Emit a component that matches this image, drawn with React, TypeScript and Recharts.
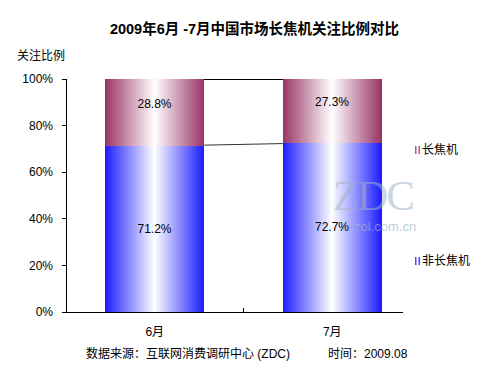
import React from 'react';
import { BarChart, Bar, XAxis, YAxis, ReferenceLine, LabelList } from 'recharts';

const categories = ['6月', '7月'];
const nonTeleValues = [71.2, 72.7];
const teleValues = [28.8, 27.3];
const yTicks = [0, 20, 40, 60, 80, 100];
const seriesNames = { nonTele: '非长焦机', tele: '长焦机' };
const title = '2009年6月 -7月中国市场长焦机关注比例对比';
const yAxisTitle = '关注比例';
const sourceText = '数据来源：互联网消费调研中心 (ZDC)';
const timeText = '时间：2009.08';

const data = categories.map((c, i) => ({ name: c, nonTele: nonTeleValues[i], tele: teleValues[i] }));

const FONT = '"Liberation Sans", Arial, "Noto Sans CJK SC", sans-serif';
const BLUE = '#1c1cff';
const MAROON = '#993366';
const BAR_SIZE = 99;

const XTick = (props: any) => {
  const { x, y, payload, index } = props;
  const off = payload && payload.offset ? payload.offset : 0;
  return (
    <g>
      <text x={x} y={y + 20} textAnchor="middle" dominantBaseline="central" fontSize={12} fontFamily={FONT} fill="#000">
        {payload.value}
      </text>
      {index === 0 && off ? (
        <line x1={x + off} x2={x + off} y1={y - 4} y2={y} stroke="#000" strokeWidth={1} />
      ) : null}
    </g>
  );
};

// Series line drawn only in the gap between the two bars
const SeriesLine = (color: string, crisp: boolean) => (p: any) => {
  const { x1, y1, x2, y2 } = p;
  const dx = x2 - x1;
  if (!dx) return <g />;
  const half = BAR_SIZE / 2;
  const t1 = half / dx;
  const t2 = (dx - half) / dx;
  const ax = x1 + dx * t1;
  const bx = x1 + dx * t2;
  const ay = y1 + (y2 - y1) * t1;
  const by = y1 + (y2 - y1) * t2;
  return (
    <line
      x1={ax}
      y1={ay}
      x2={bx}
      y2={by}
      stroke={color}
      strokeWidth={1}
      style={{ shapeRendering: crisp ? 'crispEdges' : 'auto' }}
    />
  );
};

const labelContent = (dy: number) => (props: any) => {
  const { x, y, width, height, value } = props;
  return (
    <text
      x={x + width / 2}
      y={y + height / 2 + dy}
      textAnchor="middle"
      dominantBaseline="central"
      fontSize={12}
      fontFamily={FONT}
      fill="#000"
    >
      {Number(value).toFixed(1) + '%'}
    </text>
  );
};

const LegendMark = ({ grad }: { grad: string }) => (
  <svg width={6} height={9} style={{ display: 'inline-block', verticalAlign: 'middle', marginRight: 1 }}>
    <rect x={0} y={0} width={5} height={8} fill={`url(#${grad})`} />
  </svg>
);

export default function App() {
  return (
    <div style={{ position: 'absolute', left: 0, top: 0, width: 500, height: 375, background: '#fff', fontFamily: FONT }}>
      <svg width={0} height={0} style={{ position: 'absolute' }}>
        <defs>
          <linearGradient id="gBlue" x1="0" y1="0" x2="1" y2="0">
            <stop offset="0" stopColor={BLUE} />
            <stop offset="0.5" stopColor="#ffffff" />
            <stop offset="1" stopColor={BLUE} />
          </linearGradient>
          <linearGradient id="gMaroon" x1="0" y1="0" x2="1" y2="0">
            <stop offset="0" stopColor={MAROON} />
            <stop offset="0.5" stopColor="#ffffff" />
            <stop offset="1" stopColor={MAROON} />
          </linearGradient>
        </defs>
      </svg>
      <div style={{ position: 'absolute', left: 0, top: 0, width: 500, height: 375, shapeRendering: 'crispEdges' } as any}>
        <BarChart
          width={500}
          height={375}
          data={data}
          margin={{ top: 79, right: 97, bottom: 33, left: 0 }}
          barSize={BAR_SIZE}
        >
          <XAxis
            dataKey="name"
            height={30}
            padding={{ left: 0, right: -18 }}
            axisLine={{ stroke: '#000', strokeWidth: 1 }}
            tickLine={false}
            tickSize={0}
            tickMargin={0}
            tick={<XTick />}
            interval={0}
          />
          <YAxis
            width={66}
            domain={[0, 100]}
            ticks={yTicks}
            tickFormatter={(v: number) => v + '%'}
            axisLine={{ stroke: '#000', strokeWidth: 1 }}
            tickLine={{ stroke: '#000', strokeWidth: 1 }}
            tickSize={4}
            tickMargin={9}
            tick={{ fontSize: 12, fill: '#000', fontFamily: FONT }}
          />
          <Bar dataKey="nonTele" name={seriesNames.nonTele} stackId="a" fill="url(#gBlue)" isAnimationActive={false}>
            <LabelList dataKey="nonTele" content={labelContent(0)} />
          </Bar>
          <Bar dataKey="tele" name={seriesNames.tele} stackId="a" fill="url(#gMaroon)" isAnimationActive={false}>
            <LabelList dataKey="tele" content={labelContent(-9)} />
          </Bar>
          <ReferenceLine
            segment={[{ x: categories[0], y: 100 }, { x: categories[1], y: 100 }]}
            shape={SeriesLine('#000', true)}
          />
          <ReferenceLine
            segment={[{ x: categories[0], y: nonTeleValues[0] }, { x: categories[1], y: nonTeleValues[1] }]}
            shape={SeriesLine('#333', false)}
          />
        </BarChart>
      </div>
      <div style={{ position: 'absolute', left: 333, top: 171, fontFamily: '"Liberation Serif", "DejaVu Serif", serif', fontSize: 43, color: 'rgba(160,178,200,0.55)', whiteSpace: 'nowrap', pointerEvents: 'none', letterSpacing: -2 }}>
        ZDC
      </div>
      <div style={{ position: 'absolute', left: 354, top: 219, fontSize: 13, color: 'rgba(160,178,200,0.7)', whiteSpace: 'nowrap', pointerEvents: 'none' }}>
        zol.com.cn
      </div>
      <div style={{ position: 'absolute', left: 0, width: 509, top: 17, textAlign: 'center', fontSize: 14.5, fontWeight: 'bold', whiteSpace: 'nowrap', color: '#000' }}>
        {title}
      </div>
      <div style={{ position: 'absolute', left: 17, top: 46, fontSize: 12, whiteSpace: 'nowrap', color: '#000' }}>
        {yAxisTitle}
      </div>
      <div style={{ position: 'absolute', left: 415, top: 142, fontSize: 12, whiteSpace: 'nowrap', color: '#000', lineHeight: '16px' }}>
        <LegendMark grad="gMaroon" />
        {seriesNames.tele}
      </div>
      <div style={{ position: 'absolute', left: 415, top: 253, fontSize: 12, whiteSpace: 'nowrap', color: '#000', lineHeight: '16px' }}>
        <LegendMark grad="gBlue" />
        {seriesNames.nonTele}
      </div>
      <div style={{ position: 'absolute', left: 86, top: 346, fontSize: 12, whiteSpace: 'nowrap', color: '#000', lineHeight: '16px' }}>
        {sourceText}
      </div>
      <div style={{ position: 'absolute', left: 328, top: 346, fontSize: 12, whiteSpace: 'nowrap', color: '#000', lineHeight: '16px' }}>
        {timeText}
      </div>
    </div>
  );
}
